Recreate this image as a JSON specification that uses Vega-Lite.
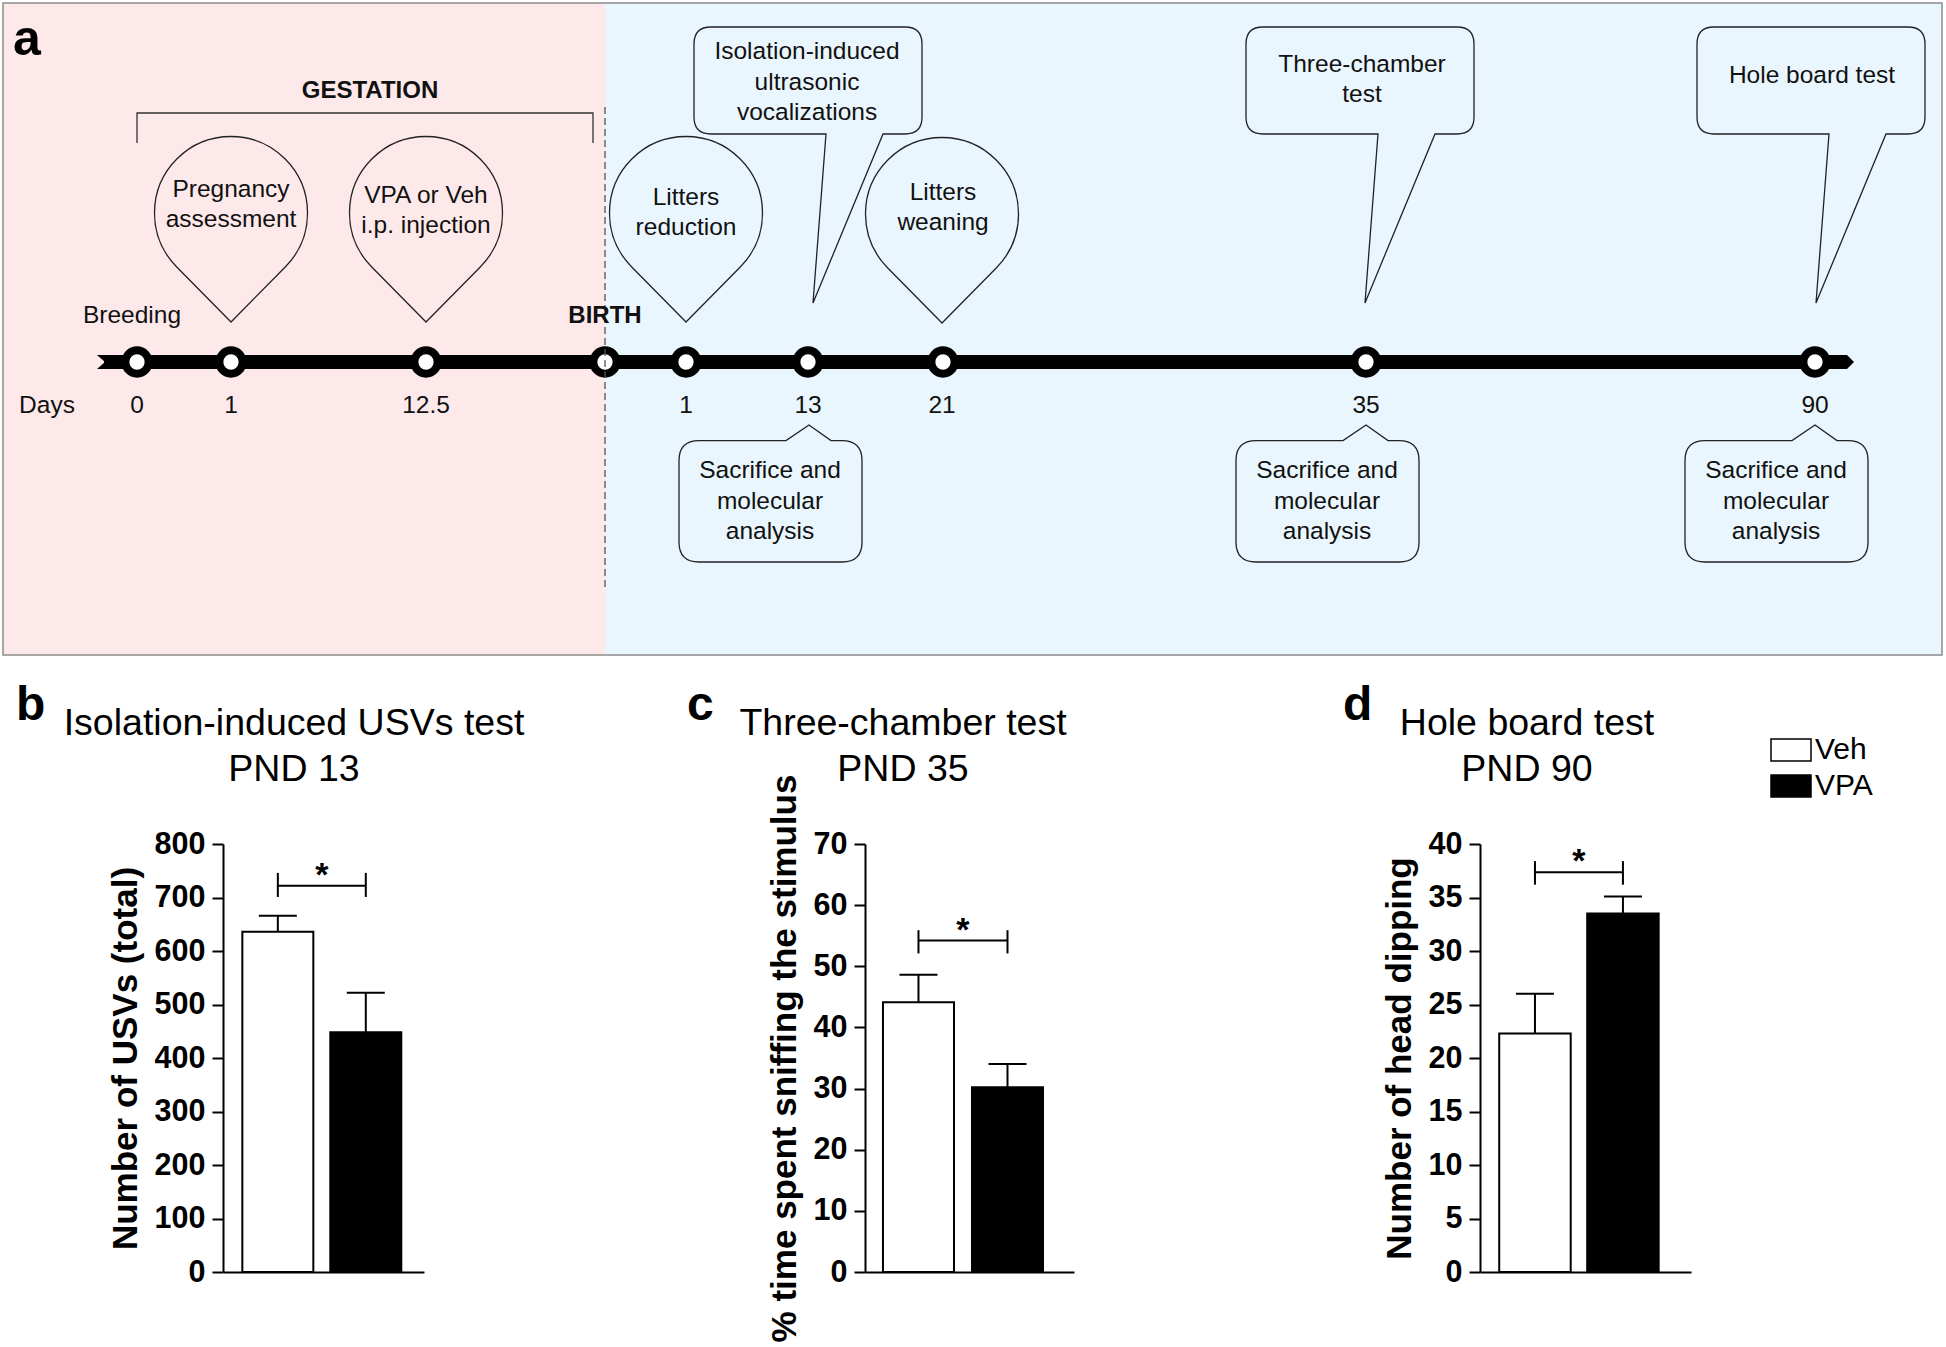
{
  "$schema": "https://vega.github.io/schema/vega-lite/v6.json",
  "background": "white",
  "padding": 0,
  "bounds": "flush",
  "spacing": 44,
  "config": {
    "view": {"stroke": null},
    "font": "Liberation Sans",
    "axisY": {"domainColor": "black", "domainWidth": 2, "tickColor": "black", "tickWidth": 2, "tickSize": 11, "labelFont": "Liberation Sans", "labelFontWeight": "bold", "labelFontSize": 30.5, "labelColor": "black", "labelPadding": 7, "titleFont": "Liberation Sans", "titleFontWeight": "bold", "titleFontSize": 35, "titleColor": "black", "titlePadding": 11, "grid": false},
    "axisX": {"domainColor": "black", "domainWidth": 2, "ticks": false, "labels": false, "grid": false}
  },
  "datasets": {
    "anchor": [{"x": 0, "x2": 1946, "y": 0, "y2": 2}],
    "regions": [
      {"phase": "gestation", "x": 3, "x2": 605, "y": 3, "y2": 655},
      {"phase": "postnatal", "x": 605, "x2": 1942, "y": 3, "y2": 655}
    ],
    "frame": [{"x": 3, "x2": 1942, "y": 3, "y2": 655}],
    "bracket": [
      {"x": 137, "y": 143, "o": 1}, {"x": 137, "y": 113, "o": 2},
      {"x": 593, "y": 113, "o": 3}, {"x": 593, "y": 143, "o": 4}
    ],
    "timeline": [{"x": 104, "x2": 1846, "y": 362}],
    "startCap": [{"x": 105, "y": 362}],
    "endCap": [{"x": 1845, "y": 362}],
    "drops": [
      {"event": "Pregnancy assessment", "x": 231, "y": 213},
      {"event": "VPA or Veh i.p. injection", "x": 426, "y": 213},
      {"event": "Litters reduction", "x": 686, "y": 213},
      {"event": "Litters weaning", "x": 942, "y": 214}
    ],
    "calloutsTop": [
      {"event": "Isolation-induced ultrasonic vocalizations", "x": 813, "y": 303},
      {"event": "Three-chamber test", "x": 1365, "y": 303},
      {"event": "Hole board test", "x": 1816, "y": 303}
    ],
    "calloutsBottom": [
      {"event": "Sacrifice PND 13", "x": 809, "y": 425},
      {"event": "Sacrifice PND 35", "x": 1366, "y": 425},
      {"event": "Sacrifice PND 90", "x": 1815, "y": 425}
    ],
    "nodes": [
      {"day": "0", "x": 137, "y": 362}, {"day": "1", "x": 231, "y": 362},
      {"day": "12.5", "x": 426, "y": 362}, {"day": "birth", "x": 605, "y": 362},
      {"day": "PND 1", "x": 686, "y": 362}, {"day": "PND 13", "x": 808, "y": 362},
      {"day": "PND 21", "x": 943, "y": 362}, {"day": "PND 35", "x": 1366, "y": 362},
      {"day": "PND 90", "x": 1815, "y": 362}
    ],
    "birthLine": [{"x": 605, "y": 107, "y2": 591}],
    "texts": [
      {"kind": "panel", "text": "a", "x": 13, "y": 55},
      {"kind": "bold", "text": "GESTATION", "x": 370, "y": 98},
      {"kind": "bold", "text": "BIRTH", "x": 605, "y": 323},
      {"kind": "note", "text": "Breeding", "x": 132, "y": 323},
      {"kind": "note", "text": "Days", "x": 47, "y": 412.5},
      {"kind": "note", "text": "0", "x": 137, "y": 412.5},
      {"kind": "note", "text": "1", "x": 231, "y": 412.5},
      {"kind": "note", "text": "12.5", "x": 426, "y": 412.5},
      {"kind": "note", "text": "1", "x": 686, "y": 412.5},
      {"kind": "note", "text": "13", "x": 808, "y": 412.5},
      {"kind": "note", "text": "21", "x": 942, "y": 412.5},
      {"kind": "note", "text": "35", "x": 1366, "y": 412.5},
      {"kind": "note", "text": "90", "x": 1815, "y": 412.5},
      {"kind": "note", "text": "Pregnancy", "x": 231, "y": 197},
      {"kind": "note", "text": "assessment", "x": 231, "y": 227},
      {"kind": "note", "text": "VPA or Veh", "x": 426, "y": 203},
      {"kind": "note", "text": "i.p. injection", "x": 426, "y": 233},
      {"kind": "note", "text": "Litters", "x": 686, "y": 205},
      {"kind": "note", "text": "reduction", "x": 686, "y": 235},
      {"kind": "note", "text": "Litters", "x": 943, "y": 200},
      {"kind": "note", "text": "weaning", "x": 943, "y": 230},
      {"kind": "note", "text": "Isolation-induced", "x": 807, "y": 59},
      {"kind": "note", "text": "ultrasonic", "x": 807, "y": 89.5},
      {"kind": "note", "text": "vocalizations", "x": 807, "y": 120},
      {"kind": "note", "text": "Three-chamber", "x": 1362, "y": 72},
      {"kind": "note", "text": "test", "x": 1362, "y": 102},
      {"kind": "note", "text": "Hole board test", "x": 1812, "y": 83},
      {"kind": "note", "text": "Sacrifice and", "x": 770, "y": 478},
      {"kind": "note", "text": "molecular", "x": 770, "y": 509},
      {"kind": "note", "text": "analysis", "x": 770, "y": 539},
      {"kind": "note", "text": "Sacrifice and", "x": 1327, "y": 478},
      {"kind": "note", "text": "molecular", "x": 1327, "y": 509},
      {"kind": "note", "text": "analysis", "x": 1327, "y": 539},
      {"kind": "note", "text": "Sacrifice and", "x": 1776, "y": 478},
      {"kind": "note", "text": "molecular", "x": 1776, "y": 509},
      {"kind": "note", "text": "analysis", "x": 1776, "y": 539},
      {"kind": "letter", "text": "b", "x": 16, "y": 720},
      {"kind": "letter", "text": "c", "x": 687, "y": 720},
      {"kind": "letter", "text": "d", "x": 1343, "y": 720},
      {"kind": "title", "text": "Isolation-induced USVs test", "x": 294, "y": 735},
      {"kind": "title", "text": "PND 13", "x": 294, "y": 781},
      {"kind": "title", "text": "Three-chamber test", "x": 903, "y": 735},
      {"kind": "title", "text": "PND 35", "x": 903, "y": 781},
      {"kind": "title", "text": "Hole board test", "x": 1527, "y": 735},
      {"kind": "title", "text": "PND 90", "x": 1527, "y": 781}
    ]
  },
  "resolve": {"scale": {"fill": "independent", "x": "independent", "y": "independent"}},
  "vconcat": [
    {
      "width": 1946,
      "height": 800,
      "encoding": {
        "x": {"field": "x", "type": "quantitative", "scale": {"domain": [0, 1946], "nice": false, "zero": false}, "axis": null},
        "y": {"field": "y", "type": "quantitative", "scale": {"domain": [0, 800], "nice": false, "zero": false, "reverse": true}, "axis": null}
      },
      "layer": [
        {"data": {"name": "anchor"}, "mark": {"type": "rect", "fill": "white"}, "encoding": {"x2": {"field": "x2"}, "y2": {"field": "y2"}}},
        {"data": {"name": "regions"}, "mark": {"type": "rect"}, "encoding": {"x2": {"field": "x2"}, "y2": {"field": "y2"}, "fill": {"field": "phase", "type": "nominal", "scale": {"domain": ["gestation", "postnatal"], "range": ["#fde9ea", "#eaf6fd"]}, "legend": null}}},
        {"data": {"name": "frame"}, "mark": {"type": "rect", "fill": "transparent", "stroke": "#8c8c8c", "strokeWidth": 1.5}, "encoding": {"x2": {"field": "x2"}, "y2": {"field": "y2"}}},
        {"data": {"name": "bracket"}, "mark": {"type": "line", "color": "#333333", "strokeWidth": 1.3}, "encoding": {"order": {"field": "o", "type": "quantitative"}}},
        {"data": {"name": "drops"}, "mark": {"type": "point", "shape": "M-0.545,0.537L0,1.09L0.545,0.537A0.765,0.765,0,1,0,-0.545,0.537Z", "size": 40000, "filled": false, "stroke": "#222222", "strokeWidth": 1.3, "opacity": 1}},
        {"data": {"name": "calloutsTop"}, "mark": {"type": "point", "shape": "M0,0L0.13,-1.69H-1.02Q-1.19,-1.69,-1.19,-1.86V-2.59Q-1.19,-2.76,-1.02,-2.76H0.92Q1.09,-2.76,1.09,-2.59V-1.86Q1.09,-1.69,0.92,-1.69H0.7Z", "size": 40000, "filled": false, "stroke": "#222222", "strokeWidth": 1.3, "opacity": 1}},
        {"data": {"name": "calloutsBottom"}, "mark": {"type": "point", "shape": "M0,0L0.22,0.156H0.33Q0.53,0.156,0.53,0.356V1.17Q0.53,1.37,0.33,1.37H-1.1Q-1.3,1.37,-1.3,1.17V0.356Q-1.3,0.156,-1.1,0.156H-0.23Z", "size": 40000, "filled": false, "stroke": "#222222", "strokeWidth": 1.3, "opacity": 1}},
        {"data": {"name": "timeline"}, "mark": {"type": "rule", "color": "black", "strokeWidth": 14, "strokeCap": "butt"}, "encoding": {"x2": {"field": "x2"}}},
        {"data": {"name": "startCap"}, "mark": {"type": "point", "shape": "M0.1,-0.7L-0.8,-0.7L0,0L-0.8,0.7L0.1,0.7Z", "size": 400, "filled": true, "color": "black", "strokeWidth": 0, "opacity": 1}},
        {"data": {"name": "endCap"}, "mark": {"type": "point", "shape": "M-0.1,-0.7L0.2,-0.7L0.9,0L0.2,0.7L-0.1,0.7Z", "size": 400, "filled": true, "color": "black", "strokeWidth": 0, "opacity": 1}},
        {"data": {"name": "nodes"}, "mark": {"type": "point", "shape": "circle", "size": 543, "filled": true, "fill": "white", "stroke": "black", "strokeWidth": 8, "opacity": 1}},
        {"data": {"name": "birthLine"}, "mark": {"type": "rule", "color": "#555555", "strokeWidth": 1.3, "strokeDash": [7, 4]}, "encoding": {"y2": {"field": "y2"}}},
        {"data": {"name": "texts"}, "transform": [{"filter": "datum.kind === 'note'"}], "mark": {"type": "text", "font": "Liberation Sans", "fontSize": 24.5, "align": "center", "baseline": "alphabetic", "color": "#111111"}, "encoding": {"text": {"field": "text"}}},
        {"data": {"name": "texts"}, "transform": [{"filter": "datum.kind === 'bold'"}], "mark": {"type": "text", "font": "Liberation Sans", "fontSize": 24, "fontWeight": "bold", "align": "center", "baseline": "alphabetic", "color": "#111111"}, "encoding": {"text": {"field": "text"}}},
        {"data": {"name": "texts"}, "transform": [{"filter": "datum.kind === 'panel'"}], "mark": {"type": "text", "font": "Liberation Sans", "fontSize": 50, "fontWeight": "bold", "align": "left", "baseline": "alphabetic", "color": "black"}, "encoding": {"text": {"field": "text"}}},
        {"data": {"name": "texts"}, "transform": [{"filter": "datum.kind === 'letter'"}], "mark": {"type": "text", "font": "Liberation Sans", "fontSize": 48, "fontWeight": "bold", "align": "left", "baseline": "alphabetic", "color": "black"}, "encoding": {"text": {"field": "text"}}},
        {"data": {"name": "texts"}, "transform": [{"filter": "datum.kind === 'title'"}], "mark": {"type": "text", "font": "Liberation Sans", "fontSize": 37.5, "align": "center", "baseline": "alphabetic", "color": "black"}, "encoding": {"text": {"field": "text"}}}
      ]
    },
    {
      "bounds": "flush",
      "spacing": 0,
      "resolve": {"scale": {"fill": "independent", "x": "independent", "y": "independent"}, "legend": {"fill": "independent"}},
      "hconcat": [
        {"width": 223, "height": 428, "data": {"values": []}, "mark": "point"},
        {
          "width": 201,
          "height": 428,
          "data": {"values": [{"group": "Veh", "mean": 636, "upper": 666}, {"group": "VPA", "mean": 448, "upper": 522}]},
          "encoding": {"x": {"field": "group", "type": "nominal", "scale": {"domain": ["Veh", "VPA"], "paddingInner": 0.193, "paddingOuter": 0.239, "align": 0.46}, "axis": {"title": null}}},
          "layer": [
            {"mark": {"type": "bar", "stroke": "black", "strokeWidth": 2, "opacity": 1}, "encoding": {"y": {"field": "mean", "type": "quantitative", "scale": {"domain": [0, 800], "nice": false}, "axis": {"values": [0, 100, 200, 300, 400, 500, 600, 700, 800], "title": "Number of USVs (total)"}}, "fill": {"field": "group", "type": "nominal", "scale": {"domain": ["Veh", "VPA"], "range": ["white", "black"]}, "legend": null}}},
            {"mark": {"type": "rule", "color": "black", "strokeWidth": 2}, "encoding": {"y": {"field": "mean", "type": "quantitative"}, "y2": {"field": "upper"}}},
            {"mark": {"type": "tick", "color": "black", "size": 38, "thickness": 2, "opacity": 1}, "encoding": {"y": {"field": "upper", "type": "quantitative"}}},
            {"data": {"values": [{"y": 722}]}, "mark": {"type": "rule", "color": "black", "strokeWidth": 2}, "encoding": {"x": {"datum": "Veh"}, "x2": {"datum": "VPA"}, "y": {"field": "y", "type": "quantitative"}}},
            {"data": {"values": [{"group": "Veh", "lo": 701, "hi": 746}, {"group": "VPA", "lo": 701, "hi": 746}]}, "mark": {"type": "rule", "color": "black", "strokeWidth": 2}, "encoding": {"y": {"field": "lo", "type": "quantitative"}, "y2": {"field": "hi"}}},
            {"data": {"values": [{"label": "*", "y": 722}]}, "mark": {"type": "text", "font": "Liberation Sans", "fontWeight": "bold", "fontSize": 34, "baseline": "alphabetic", "align": "center", "dx": 44, "color": "black"}, "encoding": {"x": {"datum": "Veh"}, "y": {"field": "y", "type": "quantitative"}, "text": {"field": "label"}}}
          ]
        },
        {"width": 441, "height": 428, "data": {"values": []}, "mark": "point"},
        {
          "width": 209,
          "height": 428,
          "data": {"values": [{"group": "Veh", "mean": 44.1, "upper": 48.6}, {"group": "VPA", "mean": 30.2, "upper": 34.0}]},
          "encoding": {"x": {"field": "group", "type": "nominal", "scale": {"domain": ["Veh", "VPA"], "paddingInner": 0.202, "paddingOuter": 0.275, "align": 0.367}, "axis": {"title": null}}},
          "layer": [
            {"mark": {"type": "bar", "stroke": "black", "strokeWidth": 2, "opacity": 1}, "encoding": {"y": {"field": "mean", "type": "quantitative", "scale": {"domain": [0, 70], "nice": false}, "axis": {"values": [0, 10, 20, 30, 40, 50, 60, 70], "title": "% time spent sniffing the stimulus"}}, "fill": {"field": "group", "type": "nominal", "scale": {"domain": ["Veh", "VPA"], "range": ["white", "black"]}, "legend": null}}},
            {"mark": {"type": "rule", "color": "black", "strokeWidth": 2}, "encoding": {"y": {"field": "mean", "type": "quantitative"}, "y2": {"field": "upper"}}},
            {"mark": {"type": "tick", "color": "black", "size": 38, "thickness": 2, "opacity": 1}, "encoding": {"y": {"field": "upper", "type": "quantitative"}}},
            {"data": {"values": [{"y": 54.2}]}, "mark": {"type": "rule", "color": "black", "strokeWidth": 2}, "encoding": {"x": {"datum": "Veh"}, "x2": {"datum": "VPA"}, "y": {"field": "y", "type": "quantitative"}}},
            {"data": {"values": [{"group": "Veh", "lo": 52.1, "hi": 55.9}, {"group": "VPA", "lo": 52.1, "hi": 55.9}]}, "mark": {"type": "rule", "color": "black", "strokeWidth": 2}, "encoding": {"y": {"field": "lo", "type": "quantitative"}, "y2": {"field": "hi"}}},
            {"data": {"values": [{"label": "*", "y": 54.2}]}, "mark": {"type": "text", "font": "Liberation Sans", "fontWeight": "bold", "fontSize": 34, "baseline": "alphabetic", "align": "center", "dx": 44.5, "color": "black"}, "encoding": {"x": {"datum": "Veh"}, "y": {"field": "y", "type": "quantitative"}, "text": {"field": "label"}}}
          ]
        },
        {"width": 406, "height": 428, "data": {"values": []}, "mark": "point"},
        {
          "width": 211,
          "height": 428,
          "data": {"values": [{"group": "Veh", "mean": 22.3, "upper": 26.0}, {"group": "VPA", "mean": 33.5, "upper": 35.1}]},
          "encoding": {"x": {"field": "group", "type": "nominal", "scale": {"domain": ["Veh", "VPA"], "paddingInner": 0.1875, "paddingOuter": 0.293, "align": 0.373}, "axis": {"title": null}}},
          "layer": [
            {"mark": {"type": "bar", "stroke": "black", "strokeWidth": 2, "opacity": 1}, "encoding": {"y": {"field": "mean", "type": "quantitative", "scale": {"domain": [0, 40], "nice": false}, "axis": {"values": [0, 5, 10, 15, 20, 25, 30, 35, 40], "title": "Number of head dipping"}}, "fill": {"field": "group", "type": "nominal", "scale": {"domain": ["Veh", "VPA"], "range": ["white", "black"]}, "legend": {"orient": "none", "legendX": 290, "legendY": -115, "title": null, "symbolType": "M-1,-0.55H1V0.55H-1Z", "symbolSize": 1600, "symbolStrokeColor": "black", "symbolStrokeWidth": 1.5, "symbolOpacity": 1, "labelFont": "Liberation Sans", "labelFontSize": 30, "labelColor": "black", "labelOffset": 3, "rowPadding": -6.5, "padding": 0}}}},
            {"mark": {"type": "rule", "color": "black", "strokeWidth": 2}, "encoding": {"y": {"field": "mean", "type": "quantitative"}, "y2": {"field": "upper"}}},
            {"mark": {"type": "tick", "color": "black", "size": 38, "thickness": 2, "opacity": 1}, "encoding": {"y": {"field": "upper", "type": "quantitative"}}},
            {"data": {"values": [{"y": 37.35}]}, "mark": {"type": "rule", "color": "black", "strokeWidth": 2}, "encoding": {"x": {"datum": "Veh"}, "x2": {"datum": "VPA"}, "y": {"field": "y", "type": "quantitative"}}},
            {"data": {"values": [{"group": "Veh", "lo": 36.2, "hi": 38.4}, {"group": "VPA", "lo": 36.2, "hi": 38.4}]}, "mark": {"type": "rule", "color": "black", "strokeWidth": 2}, "encoding": {"y": {"field": "lo", "type": "quantitative"}, "y2": {"field": "hi"}}},
            {"data": {"values": [{"label": "*", "y": 37.35}]}, "mark": {"type": "text", "font": "Liberation Sans", "fontWeight": "bold", "fontSize": 34, "baseline": "alphabetic", "align": "center", "dx": 44, "color": "black"}, "encoding": {"x": {"datum": "Veh"}, "y": {"field": "y", "type": "quantitative"}, "text": {"field": "label"}}}
          ]
        }
      ]
    }
  ]
}
